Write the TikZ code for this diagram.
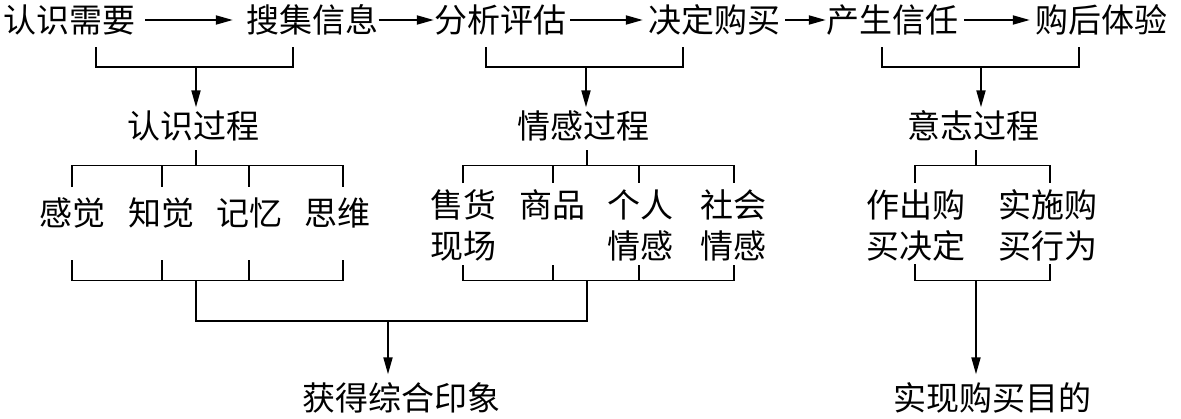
\documentclass[tikz,border=0pt]{standalone}
\usepackage{fontspec}
\newfontfamily\cjk{Noto Sans CJK SC}
\usetikzlibrary{arrows.meta}
\begin{document}
\begin{tikzpicture}[x=1pt,y=-1pt,
  lbl/.style={font=\cjk\fontsize{33}{41}\selectfont, inner sep=0pt, text height=28pt, text depth=3pt},
  lbltwo/.style={font=\cjk\fontsize{33}{41}\selectfont, inner sep=0pt, align=center, text height=69pt, text depth=3pt},
  ln/.style={line width=1.9pt},
  arr/.style={line width=1.9pt, -{Triangle[length=17pt,width=9pt]}}]
\useasboundingbox (0,0) rectangle (1181,418);
% top row
\node[lbl] (n1) at (70,20) {认识需要};
\node[lbl] (n2) at (312.5,20) {搜集信息};
\node[lbl] (n3) at (500,20) {分析评估};
\node[lbl] (n4) at (714,20) {决定购买};
\node[lbl] (n5) at (892,20) {产生信任};
\node[lbl] (n6) at (1101,20) {购后体验};
\draw[arr] ([xshift=9pt]n1.east) -- ([xshift=-13.5pt]n2.west);
\draw[arr] (n2.east) -- (n3.west);
\draw[arr] ([xshift=4pt]n3.east) -- ([xshift=-5pt]n4.west);
\draw[arr] ([xshift=5pt]n4.east) -- (n5.west);
\draw[arr] ([xshift=6pt]n5.east) -- ([xshift=-5pt]n6.west);
% process nodes
\node[lbl] (p1) at (193,126) {认识过程};
\node[lbl] (p2) at (583,126) {情感过程};
\node[lbl] (p3) at (973,126) {意志过程};
% elements
\node[lbl] (c1) at (72.5,213) {感觉};
\node[lbl] (c2) at (161,213) {知觉};
\node[lbl] (c3) at (249,213) {记忆};
\node[lbl] (c4) at (337.5,213) {思维};
\node[lbltwo] (e1) at (463.5,225.5) {售货\\现场};
\node[lbl] (e2) at (552.5,205) {商品};
\node[lbltwo] (e3) at (640,225.5) {个人\\情感};
\node[lbltwo] (e4) at (733.5,225.5) {社会\\情感};
\node[lbltwo] (w1) at (915.5,225.5) {作出购\\买决定};
\node[lbltwo] (w2) at (1047.5,225.5) {实施购\\买行为};
% results
\node[lbl] (r1) at (401,398) {获得综合印象};
\node[lbl] (r2) at (992,398) {实现购买目的};
% columns
\coordinate (k1) at (72,0); \coordinate (k2) at (162,0); \coordinate (k3) at (249,0); \coordinate (k4) at (343,0);
\coordinate (m1) at (463,0); \coordinate (m2) at (553,0); \coordinate (m3) at (639,0); \coordinate (m4) at (734,0);
\coordinate (v1) at (915,0); \coordinate (v2) at (1050,0);
\coordinate (g1) at (196,0); \coordinate (g2) at (587,0); \coordinate (g3) at (976,0); \coordinate (gr) at (388,0);
% top brackets
\coordinate (b1l) at (96,47); \coordinate (b1r) at (293,47); \coordinate (b1m) at (196,67);
\coordinate (b2l) at (486,47); \coordinate (b2r) at (683,47); \coordinate (b2m) at (586,67);
\coordinate (b3l) at (882,47); \coordinate (b3r) at (1079,47); \coordinate (b3m) at (981,67);
\draw[ln] (b1l) |- (b1m) -| (b1r);
\draw[ln] (b2l) |- (b2m) -| (b2r);
\draw[ln] (b3l) |- (b3m) -| (b3r);
\draw[arr,shorten >=3pt] (b1m) -- (b1m |- p1.north);
\draw[arr,shorten >=3pt] (b2m) -- (b2m |- p2.north);
\draw[arr,shorten >=3pt] (b3m) -- (b3m |- p3.north);
% levels
\coordinate (ys) at (0,150); \coordinate (yh) at (0,165.5);
\coordinate (yva) at (0,187); \coordinate (yvb) at (0,183);
\coordinate (ylA) at (0,260); \coordinate (ylB) at (0,265); \coordinate (ylC) at (0,264);
\coordinate (ylh) at (0,280.5); \coordinate (yj) at (0,321);
% group 1 upper
\draw[ln] (g1 |- ys) -- (g1 |- yh);
\draw[ln] (k1 |- yva) |- (k4 |- yh) -- (k4 |- yva);
\draw[ln] (k2 |- yh) -- (k2 |- yva);
\draw[ln] (k3 |- yh) -- (k3 |- yva);
% group 2 upper
\draw[ln] (g2 |- ys) -- (g2 |- yh);
\draw[ln] (m1 |- yvb) |- (m4 |- yh) -- (m4 |- yvb);
\draw[ln] (m2 |- yh) -- (m2 |- yvb);
\draw[ln] (m3 |- yh) -- (m3 |- yvb);
% group 3 upper
\draw[ln] (g3 |- ys) -- (g3 |- yh);
\draw[ln] (v1 |- yvb) |- (v2 |- yh) -- (v2 |- yvb);
% group 1 lower
\draw[ln] (k1 |- ylA) |- (k4 |- ylh) -- (k4 |- ylA);
\draw[ln] (k2 |- ylA) -- (k2 |- ylh);
\draw[ln] (k3 |- ylA) -- (k3 |- ylh);
% group 2 lower
\draw[ln] (m1 |- ylB) |- (m4 |- ylh) -- (m4 |- ylB);
\draw[ln] (m2 |- ylB) -- (m2 |- ylh);
\draw[ln] (m3 |- ylB) -- (m3 |- ylh);
% group 3 lower
\draw[ln] (v1 |- ylC) |- (v2 |- ylh) -- (v2 |- ylC);
% joins
\draw[ln] (g1 |- ylh) |- (g2 |- yj) -- (g2 |- ylh);
\draw[arr,shorten >=8pt] (gr |- yj) -- (gr |- r1.north);
\draw[arr,shorten >=8pt] (g3 |- ylh) -- (g3 |- r2.north);
\end{tikzpicture}
\end{document}
